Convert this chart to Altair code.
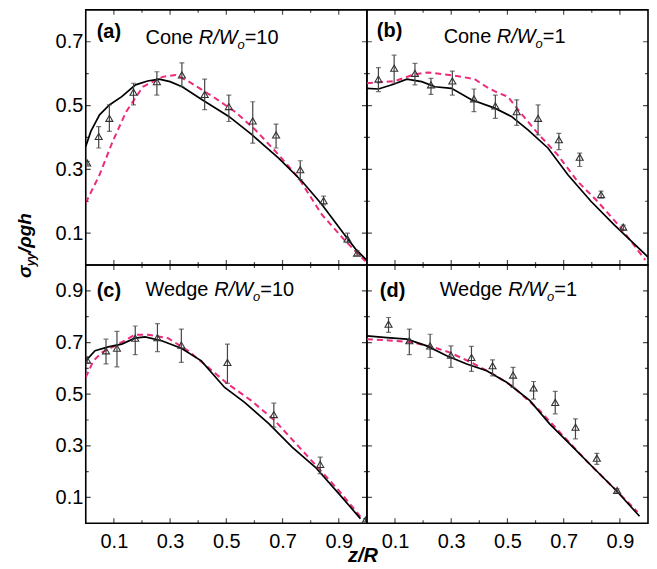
import altair as alt
import pandas as pd

FONT = "Liberation Sans"
PINK = "#EE2A7B"
GRAY = "#444444"

# ---------------- panel (a) Cone R/Wo=10 ----------------
a_px = [0.005, 0.046, 0.084, 0.170, 0.253, 0.342, 0.423, 0.509, 0.594, 0.677, 0.763, 0.846, 0.931, 0.965]
a_py = [0.32, 0.403, 0.46, 0.542, 0.575, 0.596, 0.535, 0.497, 0.452, 0.408, 0.299, 0.202, 0.082, 0.037]
a_lo = [0.315, 0.367, 0.419, 0.502, 0.533, 0.559, 0.487, 0.45, 0.382, 0.367, 0.268, 0.189, 0.07, 0.03]
a_hi = [0.325, 0.434, 0.502, 0.570, 0.606, 0.634, 0.583, 0.533, 0.512, 0.442, 0.327, 0.216, 0.10, 0.045]
a_sx = [0.0, 0.018, 0.049, 0.084, 0.128, 0.177, 0.22, 0.261, 0.30, 0.343, 0.414, 0.509, 0.592, 0.686, 0.77, 0.84, 0.924, 0.96, 1.0]
a_sy = [0.372, 0.419, 0.471, 0.502, 0.528, 0.565, 0.577, 0.583, 0.575, 0.559, 0.518, 0.466, 0.408, 0.335, 0.262, 0.19, 0.091, 0.05, 0.015]
a_dx = [0.0, 0.049, 0.096, 0.144, 0.203, 0.274, 0.32, 0.367, 0.461, 0.532, 0.603, 0.686, 0.757, 0.84, 0.924, 0.995]
a_dy = [0.195, 0.283, 0.388, 0.481, 0.559, 0.59, 0.596, 0.575, 0.523, 0.48, 0.424, 0.346, 0.273, 0.158, 0.075, 0.012]

# ---------------- panel (b) Cone R/Wo=1 ----------------
b_px = [0.041, 0.097, 0.171, 0.228, 0.304, 0.381, 0.457, 0.533, 0.609, 0.683, 0.757, 0.833, 0.912]
b_py = [0.583, 0.617, 0.601, 0.565, 0.577, 0.521, 0.499, 0.481, 0.46, 0.393, 0.338, 0.221, 0.119]
b_lo = [0.544, 0.57, 0.565, 0.535, 0.533, 0.481, 0.46, 0.438, 0.408, 0.362, 0.309, 0.21, 0.11]
b_hi = [0.619, 0.658, 0.632, 0.585, 0.608, 0.552, 0.533, 0.518, 0.502, 0.413, 0.351, 0.232, 0.125]
b_sx = [0.0, 0.041, 0.095, 0.142, 0.195, 0.242, 0.301, 0.372, 0.455, 0.514, 0.573, 0.644, 0.715, 0.797, 0.879, 0.991, 1.0]
b_sy = [0.554, 0.552, 0.567, 0.583, 0.575, 0.559, 0.554, 0.518, 0.492, 0.466, 0.424, 0.367, 0.283, 0.2, 0.127, 0.033, 0.025]
b_dx = [0.0, 0.1, 0.17, 0.218, 0.312, 0.383, 0.424, 0.466, 0.501, 0.548, 0.608, 0.678, 0.749, 0.82, 0.903, 0.99]
b_dy = [0.57, 0.577, 0.598, 0.604, 0.594, 0.583, 0.559, 0.54, 0.528, 0.476, 0.413, 0.346, 0.263, 0.2, 0.117, 0.016]

# ---------------- panel (c) Wedge R/Wo=10 ----------------
c_px = [0.005, 0.072, 0.111, 0.176, 0.255, 0.340, 0.504, 0.669, 0.834, 0.995]
c_py = [0.632, 0.668, 0.678, 0.717, 0.719, 0.69, 0.623, 0.421, 0.228, 0.012]
c_lo = [0.62, 0.617, 0.606, 0.653, 0.665, 0.623, 0.542, 0.372, 0.192, 0.006]
c_hi = [0.645, 0.713, 0.743, 0.764, 0.773, 0.752, 0.694, 0.465, 0.256, 0.018]
c_sx = [0.0, 0.033, 0.08, 0.128, 0.175, 0.211, 0.27, 0.34, 0.411, 0.494, 0.565, 0.652, 0.734, 0.817, 0.9, 0.977]
c_sy = [0.629, 0.668, 0.683, 0.694, 0.717, 0.722, 0.707, 0.678, 0.629, 0.526, 0.468, 0.385, 0.295, 0.217, 0.115, 0.018]
c_dx = [0.0, 0.027, 0.057, 0.116, 0.175, 0.222, 0.293, 0.364, 0.435, 0.506, 0.589, 0.672, 0.743, 0.814, 0.9, 0.983]
c_dy = [0.565, 0.629, 0.661, 0.694, 0.73, 0.73, 0.717, 0.668, 0.604, 0.539, 0.475, 0.398, 0.314, 0.23, 0.127, 0.018]

# ---------------- panel (d) Wedge R/Wo=1 ----------------
d_px = [0.077, 0.151, 0.225, 0.299, 0.372, 0.447, 0.52, 0.593, 0.67, 0.742, 0.818, 0.89]
d_py = [0.771, 0.707, 0.687, 0.651, 0.642, 0.61, 0.574, 0.524, 0.468, 0.372, 0.252, 0.127]
d_lo = [0.739, 0.653, 0.642, 0.604, 0.588, 0.571, 0.526, 0.481, 0.424, 0.327, 0.228, 0.12]
d_hi = [0.797, 0.752, 0.732, 0.687, 0.685, 0.633, 0.604, 0.549, 0.511, 0.404, 0.271, 0.133]
d_sx = [0.0, 0.071, 0.142, 0.213, 0.284, 0.355, 0.426, 0.497, 0.58, 0.65, 0.733, 0.804, 0.887, 0.97]
d_sy = [0.726, 0.719, 0.713, 0.687, 0.649, 0.617, 0.591, 0.546, 0.475, 0.385, 0.295, 0.217, 0.127, 0.027]
d_dx = [0.0, 0.094, 0.165, 0.248, 0.296, 0.378, 0.449, 0.52, 0.615, 0.697, 0.78, 0.875, 0.963]
d_dy = [0.713, 0.707, 0.7, 0.678, 0.661, 0.619, 0.578, 0.529, 0.436, 0.34, 0.243, 0.14, 0.044]

# ---------------- ticks & labels ----------------
x_major = [0.1, 0.3, 0.5, 0.7, 0.9]
x_minor = [0.2, 0.4, 0.6, 0.8]
y_major_top = [0.1, 0.3, 0.5, 0.7]
y_minor_top = [0.2, 0.4, 0.6]
y_major_bot = [0.1, 0.3, 0.5, 0.7, 0.9]
y_minor_bot = [0.2, 0.4, 0.6, 0.8]

tags = ["(a)", "(b)", "(c)", "(d)"]
shapes = ["Cone", "Cone", "Wedge", "Wedge"]
ratios = ["10", "1", "10", "1"]
y_title = ["\u03c3", "yy", "/\u03c1gh"]
x_title = "z/R"

# ---------------- layout ----------------
W = 282
H_TOP = 256
H_BOT = 259
tag_pos = [(11, 28), (10, 27), (11, 32), (13, 32)]
title_pos = [(60, 34), (77, 33), (60, 31), (73, 31)]

ADV = {"C": 722, "o": 556, "n": 556, "e": 556, " ": 278, "W": 944, "d": 556,
       "g": 556, "=": 584, "1": 556, "0": 556, "R": 722, "/": 278}


def tw(s, size):
    return sum(ADV.get(c, 556) for c in s) * size / 1000.0


def txt(s, x, y, size=20, weight="normal", style="normal", angle=0, align="left"):
    return alt.Chart(pd.DataFrame({"t": [s]})).mark_text(
        text=s, font=FONT, fontSize=size, fontWeight=weight, fontStyle=style,
        angle=angle, align=align, baseline="alphabetic", color="black"
    ).encode(x=alt.value(x), y=alt.value(y))


def panel(i, px, py, lo, hi, sx, sy, dx, dy, ydom, H, ymaj, ymin, show_y, show_x, extra=()):
    xs = alt.Scale(domain=[0, 1], nice=False, zero=False)
    ys = alt.Scale(domain=ydom, nice=False, zero=False)
    xaxis = alt.Axis(values=x_major, format=".1f", ticks=False, domain=False, grid=False,
                     labelFont=FONT, labelFontSize=20, labelColor="black", labelPadding=8,
                     title=None, labelFlush=False, labelOverlap=False) if show_x else None
    yaxis = alt.Axis(values=ymaj, format=".1f", ticks=False, domain=False, grid=False,
                     labelFont=FONT, labelFontSize=20, labelColor="black", labelPadding=3,
                     title=None, labelFlush=False, labelOverlap=False) if show_y else None

    def X(f="x"):
        return alt.X(f + ":Q", scale=xs, axis=xaxis)

    def Y(f="y"):
        return alt.Y(f + ":Q", scale=ys, axis=yaxis)

    layers = []
    layers.append(alt.Chart(pd.DataFrame({"x": dx, "y": dy})).mark_line(
        color=PINK, strokeDash=[6, 4], strokeWidth=2, clip=True).encode(x=X(), y=Y()))
    layers.append(alt.Chart(pd.DataFrame({"x": sx, "y": sy})).mark_line(
        color="black", strokeWidth=1.7, clip=True).encode(x=X(), y=Y()))
    layers.append(alt.Chart(pd.DataFrame({"x": px, "lo": lo, "hi": hi})).mark_rule(
        color=GRAY, strokeWidth=1.2, clip=True).encode(x=X(), y=Y("lo"), y2=alt.Y2("hi")))
    layers.append(alt.Chart(pd.DataFrame({"x": px + px, "y": lo + hi})).mark_tick(
        orient="horizontal", size=5, thickness=1.2, color=GRAY, clip=True).encode(x=X(), y=Y()))
    layers.append(alt.Chart(pd.DataFrame({"x": px, "y": py})).mark_point(
        shape="triangle-up", filled=False, size=50, color="#333333", strokeWidth=1.1,
        opacity=1, clip=True).encode(x=X(), y=Y()))
    # inward ticks on all four sides
    for vals, L in ((x_major, 5), (x_minor, 3)):
        for yv in (0, H):
            layers.append(alt.Chart(pd.DataFrame({"x": vals})).mark_tick(
                orient="vertical", size=2 * L, thickness=1.2, color="black", clip=True
            ).encode(x=X(), y=alt.value(yv)))
    for vals, L in ((ymaj, 5), (ymin, 3)):
        for xv in (0, W):
            layers.append(alt.Chart(pd.DataFrame({"y": vals})).mark_tick(
                orient="horizontal", size=2 * L, thickness=1.2, color="black", clip=True
            ).encode(y=Y(), x=alt.value(xv)))
    # panel label
    tx, ty = tag_pos[i]
    layers.append(txt(tags[i], tx, ty, weight="bold"))
    ox, oy = title_pos[i]
    s1 = shapes[i] + " "
    layers.append(txt(s1, ox, oy))
    ox += tw(s1, 20)
    layers.append(txt("R/W", ox, oy, style="italic"))
    ox += tw("R/W", 20)
    layers.append(txt("o", ox, oy + 5, size=13, style="italic"))
    ox += tw("o", 13)
    layers.append(txt("=" + ratios[i], ox, oy))
    layers.extend(extra)
    return alt.layer(*layers).properties(width=W, height=H)


# y-axis title (rotated), drawn in panel (a)
yt_x, yt_y = -54.5, 269
w_sig = 0.62 * 19
w_yy = 2 * 0.556 * 12
ytitle = [
    txt(y_title[0], yt_x, yt_y, size=19, weight="bold", style="italic", angle=270),
    txt(y_title[1], yt_x + 4, yt_y - w_sig, size=12, weight="bold", style="italic", angle=270),
    txt(y_title[2], yt_x, yt_y - w_sig - w_yy, size=19, weight="bold", style="italic", angle=270),
]
xtitle = [txt(x_title, 278, 298, size=20, weight="bold", style="italic", align="center")]

pa = panel(0, a_px, a_py, a_lo, a_hi, a_sx, a_sy, a_dx, a_dy, [0, 0.8], H_TOP,
           y_major_top, y_minor_top, True, False, ytitle)
pb = panel(1, b_px, b_py, b_lo, b_hi, b_sx, b_sy, b_dx, b_dy, [0, 0.8], H_TOP,
           y_major_top, y_minor_top, False, False)
pc = panel(2, c_px, c_py, c_lo, c_hi, c_sx, c_sy, c_dx, c_dy, [0, 1.0], H_BOT,
           y_major_bot, y_minor_bot, True, True, xtitle)
pd_ = panel(3, d_px, d_py, d_lo, d_hi, d_sx, d_sy, d_dx, d_dy, [0, 1.0], H_BOT,
            y_major_bot, y_minor_bot, False, True)

chart = alt.concat(pa, pb, pc, pd_, columns=2, spacing=0, bounds="flush").properties(
    padding={"left": 7, "top": 0, "right": 0, "bottom": 0},
    background="white",
).configure_view(stroke="black", strokeWidth=1.6)

chart.save("out.html", embed_options={"renderer": "svg", "actions": False})
